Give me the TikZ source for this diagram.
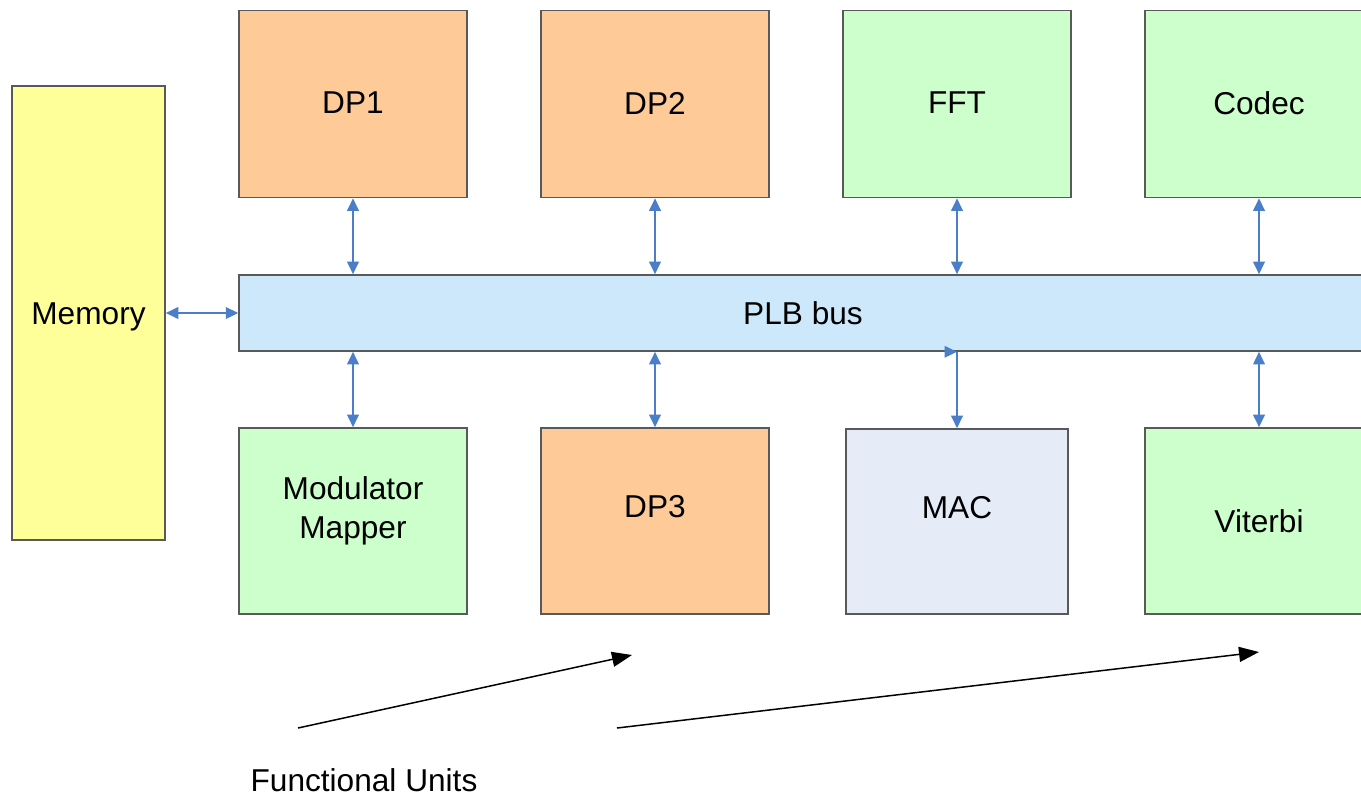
\documentclass[tikz,border=0pt]{standalone}
\usepackage{fontspec}
\setmainfont{Liberation Sans}
\usetikzlibrary{arrows.meta}
\definecolor{dpcol}{HTML}{FDCA98}
\definecolor{fucol}{HTML}{CCFFCC}
\definecolor{memcol}{HTML}{FFFF99}
\definecolor{buscol}{HTML}{CCE8FA}
\definecolor{maccol}{HTML}{E6ECF7}
\definecolor{linkcol}{HTML}{4A7EC8}
% move a label up (or down) inside its box by half the given length
\newcommand{\liftup}[2]{\raisebox{0pt}[\height][\dimexpr\depth+#1\relax]{#2}}
\newcommand{\liftdown}[2]{\raisebox{0pt}[\dimexpr\height+#1\relax][\depth]{#2}}
\begin{document}
\begin{tikzpicture}[x=0.02cm,y=-0.02cm,
    unit/.style={draw=black!65,line width=0.9pt,minimum width=4.56cm,minimum height=3.74cm,inner sep=0pt,align=center,font=\fontsize{18}{22}\selectfont},
    link/.style={linkcol,line width=1.1pt,{Triangle[length=0.25cm,width=0.23cm]}-{Triangle[length=0.25cm,width=0.23cm]}},
    pointer/.style={black,line width=0.85pt,-{Triangle[length=0.4cm,width=0.3cm]}}]
    \useasboundingbox (0,0) rectangle (1361,796);
    \clip (0,0) rectangle (1361,796);
    % memory and bus
    \node[unit,fill=memcol,minimum width=3.06cm,minimum height=9.08cm] (mem) at (88.5,313) {\liftdown{0.16cm}{Memory}};
    \node[unit,fill=buscol,minimum width=22.56cm,minimum height=1.52cm] (bus) at (803,313) {PLB bus};
    % top row
    \node[unit,fill=dpcol] (dp1) at (353,104) {\liftup{0.04cm}{DP1}};
    \node[unit,fill=dpcol] (dp2) at (655,104) {\liftup{0.04cm}{DP2}};
    \node[unit,fill=fucol] (fft) at (957,104) {\liftup{0.04cm}{FFT}};
    \node[unit,fill=fucol] (codec) at (1259,104) {\liftup{0.04cm}{Codec}};
    % bottom row
    \node[unit,fill=fucol,minimum height=3.72cm] (mod) at (353,521)
        {\liftup{0.4cm}{\begin{tabular}{@{}c@{}}Modulator\\Mapper\end{tabular}}};
    \node[unit,fill=dpcol,minimum height=3.72cm] (dp3) at (655,521) {\liftup{0.56cm}{DP3}};
    \node[unit,fill=maccol,minimum width=4.44cm,minimum height=3.7cm] (mac) at (957,521.5) {\liftup{0.56cm}{MAC}};
    \node[unit,fill=fucol,minimum height=3.72cm] (vit) at (1259,521) {Viterbi};
    % links to the bus
    \draw[link] (mem.east) -- (bus.west);
    \foreach \u in {dp1,dp2,fft,codec}
        \draw[link] (\u.south) -- (\u.south |- bus.north);
    \foreach \u in {mod,dp3,vit}
        \draw[link] (\u.north) -- (\u.north |- bus.south);
    \coordinate (macin) at ([xshift=-0.25cm]mac.north |- bus.south);
    \draw[linkcol,line width=1.1pt,-{Triangle[length=0.25cm,width=0.23cm]}] (macin) -- (mac.north |- bus.south);
    \draw[linkcol,line width=1.1pt,-{Triangle[length=0.25cm,width=0.23cm]}] (mac.north |- bus.south) -- (mac.north);
    % functional units
    \node[font=\fontsize{18}{22}\selectfont] (fu) at (364,780) {Functional Units};
    \coordinate (fu1) at (298,728);
    \coordinate (fu2) at (617,728);
    \coordinate (dp3tip) at (632,655);
    \coordinate (vittip) at (1259,652);
    \draw[pointer] (fu1) -- (dp3tip);
    \draw[pointer] (fu2) -- (vittip);
\end{tikzpicture}
\end{document}
